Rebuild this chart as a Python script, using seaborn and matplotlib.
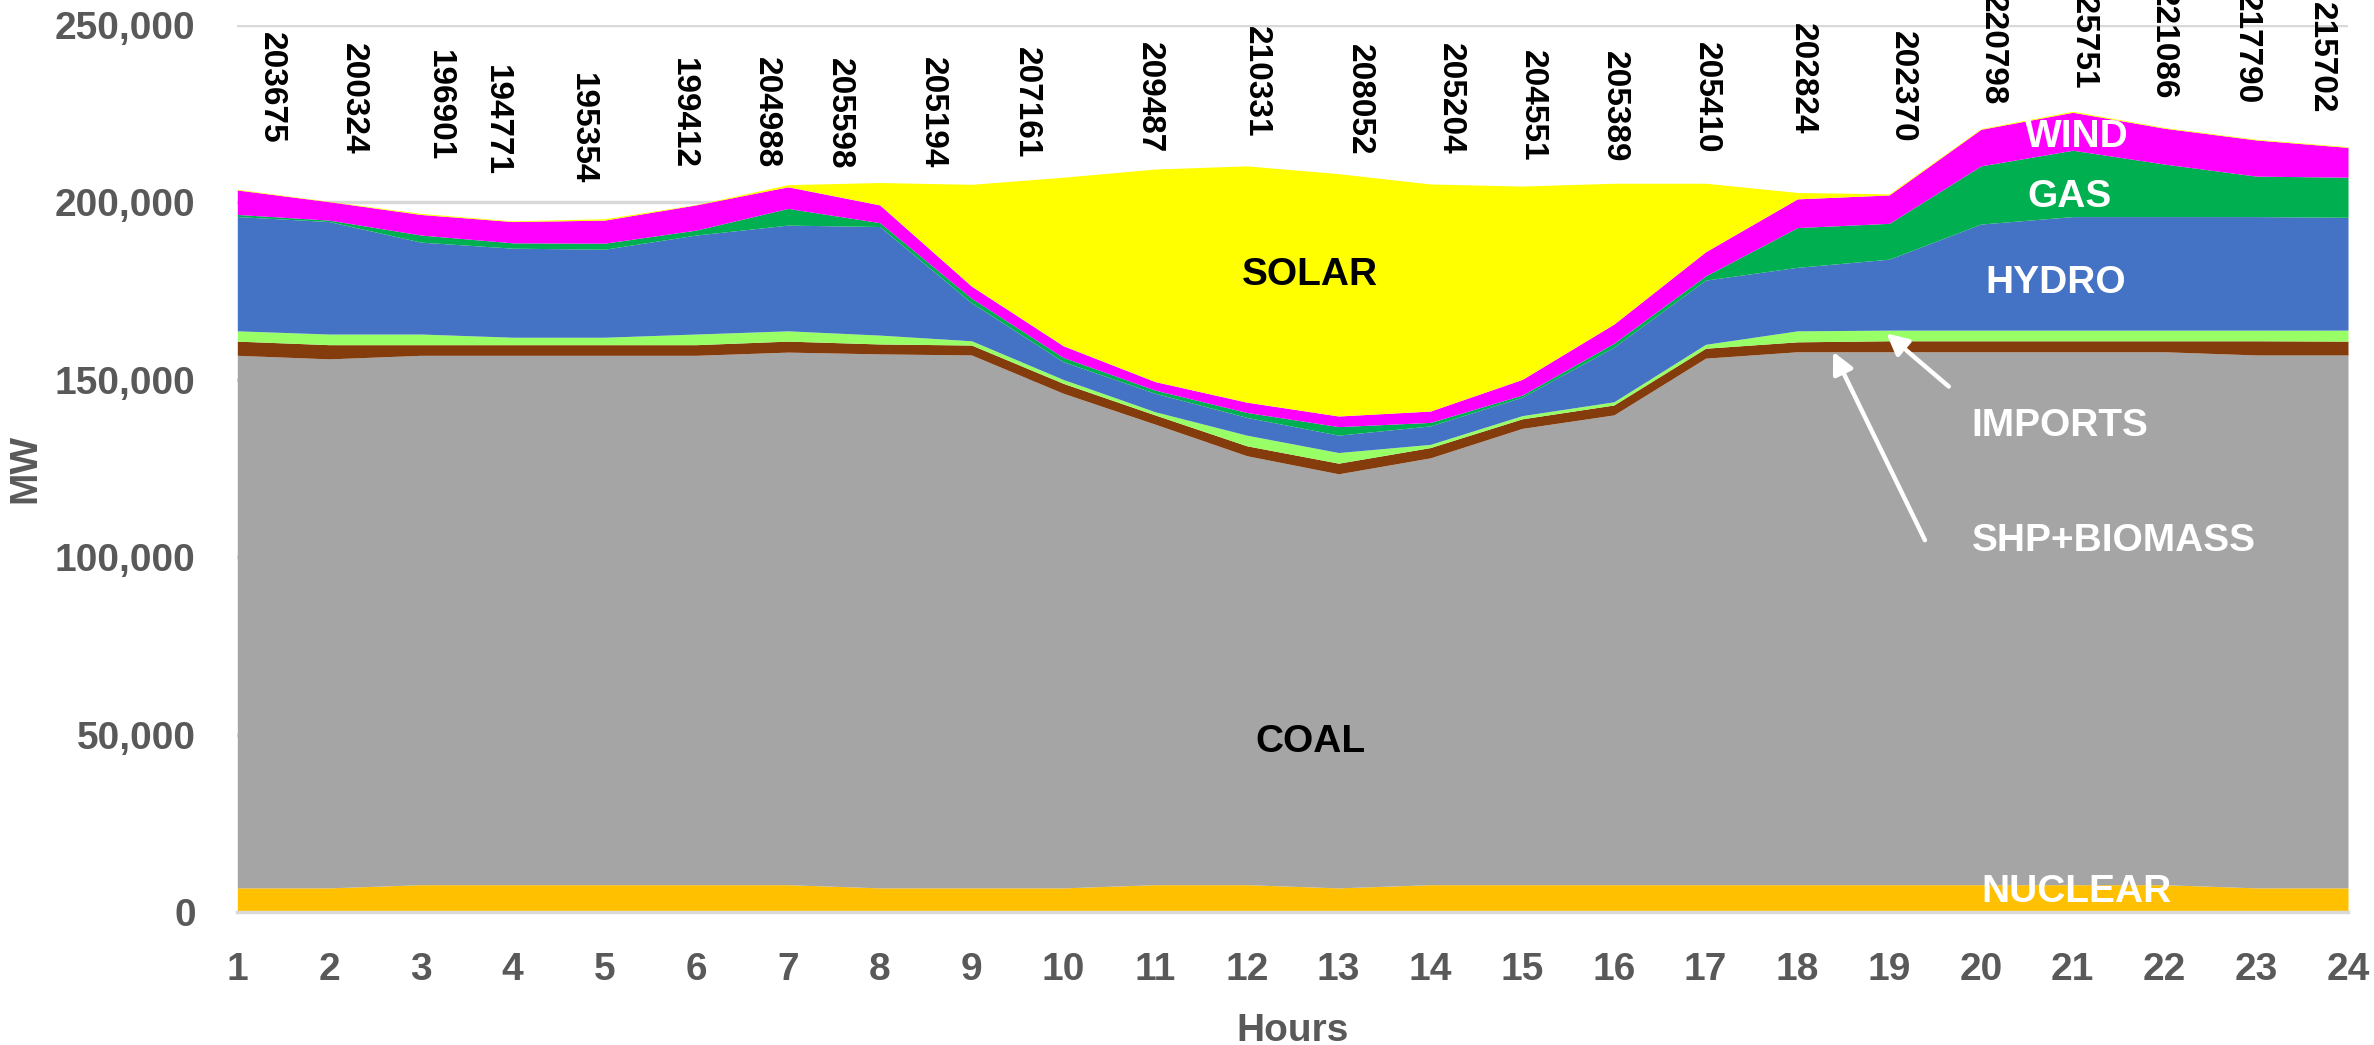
# Hourly generation mix (MW) - stacked area chart with hourly total labels

import numpy as np
import pandas as pd
import seaborn as sns
import matplotlib
matplotlib.use("Agg")
import matplotlib.pyplot as plt
from matplotlib.ticker import FuncFormatter, MultipleLocator

hours = list(range(1, 25))

nuclear = [6800, 6800, 7700, 7700, 7700, 7700, 7700, 6800, 6800, 6800, 7700, 7700,
           6800, 7700, 7700, 7700, 7700, 7700, 7700, 7700, 7700, 7700, 6800, 6800]
coal = [150100, 149100, 149200, 149200, 149200, 149200, 150100, 150500, 150200, 139400, 129800, 120900,
        116700, 120300, 128600, 132400, 148400, 150200, 150200, 150200, 150200, 150200, 150200, 150200]
shp_biomass = [4000, 4000, 3000, 3000, 3000, 3000, 3100, 2800, 2800, 2800, 2600, 2800,
               3000, 2900, 2700, 2800, 2800, 2800, 3100, 3100, 3100, 3100, 4000, 3900]
imports = [2900, 3000, 3000, 2100, 2100, 3000, 2900, 2500, 1200, 1100, 900, 3000,
           3000, 900, 900, 900, 1100, 3100, 3000, 3000, 3000, 3000, 3000, 3100]
hydro = [32200, 31700, 25900, 25100, 24800, 27900, 29800, 30600, 10700, 5000, 5200, 5000,
         4900, 5200, 5200, 15400, 18100, 17900, 20000, 29900, 32000, 32000, 32000, 31800]
gas = [600, 400, 2000, 1500, 1700, 1400, 4700, 1100, 1300, 1200, 900, 1400,
       2400, 1000, 600, 1100, 1200, 11200, 10100, 16400, 18700, 14800, 11400, 11300]
wind = [6900, 5200, 5800, 6000, 6500, 7100, 6100, 5000, 3400, 3300, 2400, 2900,
        3000, 3200, 4400, 5400, 6800, 8100, 8000, 10300, 10700, 10100, 10200, 8400]
solar = [200, 100, 300, 200, 400, 100, 600, 6300, 28700, 47500, 59900, 66600,
         68300, 64000, 54500, 39700, 19300, 1800, 300, 200, 300, 200, 200, 200]

totals = [203675, 200324, 196901, 194771, 195354, 199412, 204988, 205598, 205194, 207161, 209487, 210331,
          208052, 205204, 204551, 205389, 205410, 202824, 202370, 220798, 225751, 221086, 217790, 215702]

# where the rotated total labels sit (x in hours, top of text in MW)
label_x = [1.37, 2.26, 3.20, 3.82, 4.76, 5.86, 6.77, 7.56, 8.57, 9.60, 10.94, 12.10,
           13.23, 14.22, 15.11, 16.01, 17.01, 18.05, 19.14, 20.13, 21.12, 21.99, 22.89, 23.71]
label_top = [248000, 244900, 243000, 238700, 236500, 240700, 241000, 240700, 241000, 243800, 245200, 249700,
             244600, 244900, 243000, 242700, 245200, 250600, 248300, 258700, 263300, 260400, 259000, 256500]

series = ["NUCLEAR", "COAL", "SHP+BIOMASS", "IMPORTS", "HYDRO", "GAS", "WIND", "SOLAR"]
colors = ["#FFC000", "#A5A5A5", "#843C0C", "#99FF66", "#4472C4", "#00B050", "#FF00FF", "#FFFF00"]

df = pd.DataFrame({"Hour": hours, "NUCLEAR": nuclear, "COAL": coal, "SHP+BIOMASS": shp_biomass,
                   "IMPORTS": imports, "HYDRO": hydro, "GAS": gas, "WIND": wind, "SOLAR": solar})

sns.set_theme(style="white")
plt.rcParams["font.family"] = ["Liberation Sans", "DejaVu Sans"]
grey = "#595959"

fig = plt.figure(figsize=(23.74, 10.45), dpi=100)
ax = fig.add_axes([0.09996, 0.12727, 0.88909, 0.84881])

ax.stackplot(df["Hour"], [df[s] for s in series], colors=colors, linewidth=0, zorder=2)

ax.set_xlim(1, 24)
ax.set_ylim(0, 250000)
ax.set_xticks(hours)
ax.yaxis.set_major_locator(MultipleLocator(50000))
ax.yaxis.set_major_formatter(FuncFormatter(lambda v, p: f"{int(v):,}"))
ax.grid(axis="y", color="#D9D9D9", linewidth=2.5, zorder=0)
ax.set_axisbelow(True)
sns.despine(ax=ax, left=True, top=True, right=True)
ax.spines["bottom"].set_color("#D9D9D9")
ax.spines["bottom"].set_linewidth(2.5)
ax.tick_params(axis="x", length=9, width=2, color="#D9D9D9", pad=20,
               labelsize=28, labelcolor=grey)
ax.tick_params(axis="y", length=0, pad=30, labelsize=28, labelcolor=grey)
for t in ax.get_xticklabels() + ax.get_yticklabels():
    t.set_fontweight("bold")

ax.set_xlabel("Hours", fontsize=28, fontweight="bold", color=grey)
ax.set_ylabel("MW", fontsize=28, fontweight="bold", color=grey)
ax.xaxis.set_label_coords(0.5, -0.114)
ax.yaxis.set_label_coords(-0.092, 0.5)

# hourly totals
for lx, ly, tot in zip(label_x, label_top, totals):
    ax.text(lx, ly, str(tot), rotation=270, ha="center", va="top", fontsize=24,
            fontweight="bold", color="black", clip_on=False, zorder=5)

# series names inside the areas
lab = dict(fontsize=28, fontweight="bold", va="center", zorder=6)
ax.text(12.69, 179400, "SOLAR", color="black", ha="center", **lab)
ax.text(12.69, 47900, "COAL", color="black", ha="center", **lab)
ax.text(21.04, 218300, "WIND", color="white", ha="center", **lab)
ax.text(20.96, 201600, "GAS", color="white", ha="center", **lab)
ax.text(20.82, 177400, "HYDRO", color="white", ha="center", **lab)
ax.text(19.90, 137000, "IMPORTS", color="white", ha="left", **lab)
ax.text(19.90, 104600, "SHP+BIOMASS", color="white", ha="left", **lab)
ax.text(21.04, 5600, "NUCLEAR", color="white", ha="center", **lab)

arrow = dict(arrowstyle="-|>", color="white", lw=3.2, mutation_scale=32, shrinkA=0, shrinkB=0)
ax.annotate("", xy=(18.97, 163100), xytext=(19.65, 148100), arrowprops=arrow, zorder=6)
ax.annotate("", xy=(18.39, 157900), xytext=(19.39, 104800), arrowprops=arrow, zorder=6)

plt.savefig("out.png", dpi=100)
